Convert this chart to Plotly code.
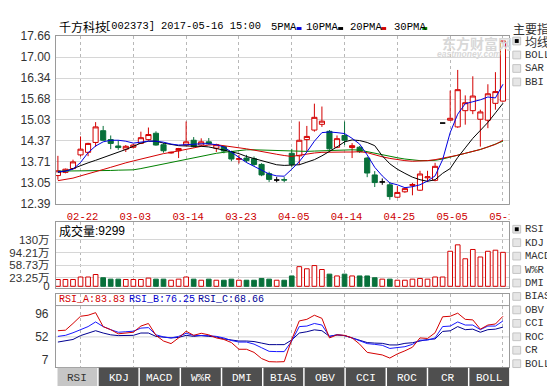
import plotly.graph_objects as go

W, H = 555, 386

# ---------------- data ----------------
dates = ['2017-02-17', '2017-02-20', '2017-02-21', '2017-02-22', '2017-02-23', '2017-02-24', '2017-02-27', '2017-02-28',
         '2017-03-01', '2017-03-02', '2017-03-03', '2017-03-06', '2017-03-07', '2017-03-08', '2017-03-09', '2017-03-10',
         '2017-03-13', '2017-03-14', '2017-03-15', '2017-03-16', '2017-03-17', '2017-03-20', '2017-03-21', '2017-03-22',
         '2017-03-23', '2017-03-24', '2017-03-27', '2017-03-28', '2017-03-29', '2017-03-30', '2017-03-31',
         '2017-04-05', '2017-04-06', '2017-04-07', '2017-04-10', '2017-04-11', '2017-04-12', '2017-04-13', '2017-04-14',
         '2017-04-17', '2017-04-18', '2017-04-19', '2017-04-20', '2017-04-21', '2017-04-24', '2017-04-25', '2017-04-26',
         '2017-04-27', '2017-04-28', '2017-05-02', '2017-05-03', '2017-05-04', '2017-05-05', '2017-05-08', '2017-05-09',
         '2017-05-10', '2017-05-11', '2017-05-12', '2017-05-15', '2017-05-16']

opens = [13.28, 13.38, 13.50, 13.93, 14.01, 14.32, 14.69, 14.41, 14.21, 14.11,
         14.17, 14.29, 14.41, 14.61, 14.25, 13.99, 14.06, 14.24, 14.39, 14.24,
         14.34, 14.14, 14.19, 14.03, 13.79, 13.83, 13.81, 13.63, 13.34, 13.14,
         13.15, 13.98, 13.90, 14.41, 14.71, 14.89, 14.67, 14.17, 14.54, 14.16,
         14.17, 13.83, 13.30, 13.08, 12.99, 12.60, 12.77, 12.97, 12.82, 13.21,
         13.13, 14.93, 15.02, 14.81, 15.32, 15.32, 15.05, 15.02, 15.55, 15.62]
highs = [13.90, 13.50, 13.78, 14.51, 14.31, 14.96, 14.84, 14.54, 14.39, 14.24,
         14.28, 14.66, 14.79, 14.67, 14.30, 14.03, 14.15, 14.98, 14.49, 14.45,
         14.46, 14.28, 14.22, 14.06, 13.93, 13.93, 13.88, 13.67, 13.40, 13.24,
         13.23, 14.12, 14.98, 14.84, 15.54, 15.45, 14.71, 14.54, 14.98, 14.30,
         14.21, 13.87, 13.42, 13.19, 13.08, 12.95, 12.90, 13.05, 13.43, 13.43,
         13.68, 14.93, 15.95, 16.60, 15.80, 16.40, 15.35, 16.15, 16.53, 17.51]
lows = [13.15, 13.35, 13.48, 13.88, 13.89, 14.18, 14.37, 14.11, 14.09, 14.02,
        14.13, 14.27, 14.38, 14.22, 14.00, 13.97, 13.83, 14.22, 14.16, 14.21,
        14.25, 14.02, 13.98, 13.73, 13.66, 13.69, 13.58, 13.26, 13.08, 13.07,
        13.07, 13.54, 13.62, 14.04, 14.66, 14.81, 14.09, 14.14, 14.24, 13.83,
        13.99, 13.23, 12.92, 12.99, 12.52, 12.58, 12.74, 12.66, 12.80, 13.08,
        13.10, 14.93, 15.00, 14.78, 14.88, 15.21, 14.19, 14.77, 15.35, 15.60]
closes = [13.43, 13.48, 13.71, 14.11, 14.29, 14.81, 14.39, 14.29, 14.16, 14.20,
          14.24, 14.47, 14.57, 14.24, 14.06, 14.01, 14.13, 14.34, 14.19, 14.34,
          14.28, 14.25, 14.05, 13.80, 13.81, 13.75, 13.63, 13.30, 13.16, 13.14,
          13.14, 13.63, 14.39, 14.51, 15.11, 14.99, 14.12, 14.44, 14.39, 14.22,
          14.03, 13.36, 13.06, 13.08, 12.62, 12.75, 12.87, 13.00, 13.33, 13.24,
          13.57, 14.93, 15.08, 15.98, 15.57, 15.78, 15.28, 15.85, 15.92, 17.51]

# volume in 万 (10k shares)
volume = [19, 19, 19, 26, 26, 33, 24, 20, 20, 19,
          19, 19, 23, 20, 20, 17, 20, 26, 20, 17,
          20, 17, 17, 20, 17, 17, 17, 22, 20, 17,
          17, 29, 55, 49, 58, 47, 34, 29, 34, 29,
          29, 29, 24, 20, 20, 17, 17, 20, 22, 20,
          26, 26, 98, 116, 77, 103, 82, 98, 101, 95]

ma5 = [13.40, 13.42, 13.48, 13.69, 14.00, 14.21, 14.34, 14.39, 14.39, 14.36,
       14.30, 14.33, 14.36, 14.36, 14.33, 14.27, 14.24, 14.25, 14.27, 14.28,
       14.28, 14.25, 14.18, 14.02, 13.87, 13.69, 13.57, 13.45, 13.33, 13.27,
       13.26, 13.48, 13.72, 14.02, 14.36, 14.63, 14.65, 14.63, 14.60, 14.45,
       14.27, 13.93, 13.54, 13.27, 13.05, 12.99, 12.90, 12.93, 12.99, 13.11,
       13.27, 13.78, 14.63, 15.21, 15.54, 15.60, 15.66, 15.75, 15.72, 16.15]
ma10 = [13.38, 13.42, 13.50, 13.60, 13.68, 13.76, 13.84, 13.92, 14.00, 14.10,
        14.20, 14.30, 14.36, 14.36, 14.30, 14.26, 14.22, 14.21, 14.21, 14.20,
        14.18, 14.14, 14.08, 14.03, 13.97, 13.88, 13.82, 13.76, 13.70, 13.62,
        13.60, 13.60, 13.62, 13.70, 13.78, 13.90, 14.03, 14.18, 14.34, 14.40,
        14.38, 14.32, 14.22, 13.90, 13.65, 13.48, 13.35, 13.23, 13.15, 13.10,
        13.15, 13.35, 13.50, 13.85, 14.15, 14.45, 14.70, 14.95, 15.25, 15.55]
ma20 = [13.12, 13.15, 13.20, 13.27, 13.33, 13.40, 13.47, 13.54, 13.62, 13.68,
        13.74, 13.80, 13.86, 13.93, 13.97, 14.01, 14.05, 14.10, 14.15, 14.20,
        14.24, 14.25, 14.22, 14.20, 14.17, 14.12, 14.08, 14.03, 13.99, 13.95,
        13.91, 13.88, 13.92, 13.96, 13.99, 14.01, 14.02, 14.02, 14.02, 14.02,
        14.03, 14.00, 13.93, 13.87, 13.82, 13.78, 13.75, 13.73, 13.73, 13.75,
        13.78, 13.82, 13.86, 13.92, 13.98, 14.03, 14.10, 14.18, 14.26, 14.39]
ma30 = [13.42, 13.42, 13.42, 13.43, 13.43, 13.43, 13.44, 13.44, 13.45, 13.45,
        13.46, 13.50, 13.55, 13.60, 13.65, 13.70, 13.75, 13.80, 13.85, 13.90,
        13.94, 13.98, 14.01, 14.04, 14.07, 14.09, 14.09, 14.08, 14.07, 14.06,
        14.05, 14.04, 14.04, 14.04, 14.05, 14.06, 14.07, 14.08, 14.09, 14.09,
        14.08, 14.03, 13.97, 13.93, 13.88, 13.84, 13.80, 13.77, 13.75, 13.75,
        13.76, 13.80, 13.85, 13.92, 13.98, 14.03, 14.10, 14.18, 14.26, 14.36]

rsi_a = [64, 65, 78, 92, 94, 99, 72, 66, 58, 59,
         61, 73, 78, 55, 44, 39, 50, 63, 55, 59,
         56, 50, 47, 41, 28, 28, 22, 10, 4, 3.5,
         4, 47, 83, 86, 94, 88, 50, 56, 55, 50,
         38, 22, 19, 17, 11, 19, 25, 32, 50, 49,
         60, 91, 92, 98, 86, 85, 67, 75, 77, 92]
rsi_b = [53, 55, 60, 66, 72, 81, 72, 66, 61, 62,
         63, 69, 70, 56, 52, 50, 53, 59, 55, 54.5,
         54.5, 53, 50, 45, 42, 42, 38, 31, 24, 23.5,
         23.5, 44, 72, 73, 78, 75, 53, 56, 54.5, 50,
         44, 39, 37.6, 35.7, 29.6, 31.4, 33, 37.6, 45.7, 45.7,
         50, 72, 73, 81, 75, 75, 66, 73, 73, 83]
rsi_c = [42, 44, 47, 54.5, 59, 64, 59.5, 56, 54.5, 54.5,
         55, 59.5, 59.5, 53, 51, 50, 51, 55, 53, 54.5,
         53, 52, 48, 45.7, 44, 44, 43, 40, 37, 37,
         37, 46, 59.5, 62, 65.7, 64, 53, 56, 54.5, 50,
         46, 41, 40, 39.5, 36.4, 36.4, 39.5, 40.7, 44, 47,
         48, 62.6, 63.8, 72, 66, 67, 61, 66, 67, 71]

price_ticks = [12.39, 13.05, 13.71, 14.37, 15.03, 15.68, 16.34, 17.00, 17.66]
vol_ticks = [0, 23.25, 58.73, 94.21, 130]
vol_ticktext = ['0', '23.25万', '58.73万', '94.21万', '130万']
rsi_ticks = [7, 52, 96]
date_tick_labels = ['02-22', '03-03', '03-14', '03-23', '04-05', '04-14', '04-25', '05-05', '05-16']
tab_labels = ['RSI', 'KDJ', 'MACD', 'W%R', 'DMI', 'BIAS', 'OBV', 'CCI', 'ROC', 'CR', 'BOLL']
main_menu = ['均线', 'BOLL', 'SAR', 'BBI']
sub_menu = ['RSI', 'KDJ', 'MACD', 'W%R', 'DMI', 'BIAS', 'OBV', 'CCI', 'ROC', 'CR', 'BOLL']
ma_names = ['5PMA', '10PMA', '20PMA', '30PMA']

# ---------------- style ----------------
RED = '#d40000'
GREEN = '#08703a'
C_MA = ['#0000e0', '#000000', '#d40000', '#008000']
C_RSI = ['#d40000', '#1818ff', '#000090']
GRID = '#d6d6d6'
VGRID = '#b8b8b8'
BORDER = '#9a9a9a'
MONO = 'Liberation Mono'
SANS = 'Liberation Sans, Noto Sans CJK SC'
CJK = 'Noto Sans CJK SC'


def X(px):
    return px / W


def Y(py):
    return 1 - py / H


n = len(dates)
xr = [-0.26, n - 1 + 0.79]
tickdates = [d for d in dates if d[5:] in date_tick_labels]

fig = go.Figure()

# ---- candlesticks ----
up = [i for i in range(n) if closes[i] > opens[i]]
dn = [i for i in range(n) if closes[i] < opens[i]]
flat = [i for i in range(n) if closes[i] == opens[i]]


def sub(lst, idx):
    return [lst[i] for i in idx]


for idx, col, fill in [(up, RED, 'white'), (dn, GREEN, GREEN), (flat, '#000000', '#000000')]:
    fig.add_trace(go.Candlestick(
        x=sub(dates, idx), open=sub(opens, idx), high=sub(highs, idx),
        low=sub(lows, idx), close=sub(closes, idx),
        increasing=dict(line=dict(color=col, width=1), fillcolor=fill),
        decreasing=dict(line=dict(color=col, width=1), fillcolor=fill),
        whiskerwidth=0, xaxis='x', yaxis='y', showlegend=False, hoverinfo='skip'))

# ---- moving averages ----
for vals, col in zip([ma30, ma20, ma10, ma5], [C_MA[3], C_MA[2], C_MA[1], C_MA[0]]):
    fig.add_trace(go.Scatter(x=dates, y=vals, mode='lines', line=dict(color=col, width=1),
                             xaxis='x', yaxis='y', showlegend=False, hoverinfo='skip'))

# ---- volume ----
vfill = [('white' if closes[i] >= opens[i] else GREEN) for i in range(n)]
vline = [(RED if closes[i] >= opens[i] else GREEN) for i in range(n)]
fig.add_trace(go.Bar(x=dates, y=volume, width=0.62,
                     marker=dict(color=vfill, line=dict(color=vline, width=1)),
                     xaxis='x2', yaxis='y2', showlegend=False, hoverinfo='skip'))

# ---- RSI ----
for vals, col in zip([rsi_c, rsi_b, rsi_a], [C_RSI[2], C_RSI[1], C_RSI[0]]):
    fig.add_trace(go.Scatter(x=dates, y=vals, mode='lines', line=dict(color=col, width=1),
                             xaxis='x3', yaxis='y3', showlegend=False, hoverinfo='skip'))

xdom = [X(49), X(512)]
common_x = dict(type='category', categoryorder='array', categoryarray=dates, range=xr,
                domain=xdom, tickvals=tickdates, showgrid=True, gridcolor=VGRID, griddash='dot',
                gridwidth=1, showline=True, mirror=True, linecolor=BORDER, linewidth=1,
                ticks='', zeroline=False, fixedrange=True, rangeslider=dict(visible=False))

fig.update_layout(
    width=W, height=H, margin=dict(l=0, r=0, t=0, b=0),
    paper_bgcolor='white', plot_bgcolor='white', showlegend=False,
    boxmode='overlay', boxgap=0.32, boxgroupgap=0, bargap=0, dragmode=False,
    xaxis=dict(common_x, anchor='y', ticktext=date_tick_labels,
               tickfont=dict(family=MONO, size=10.5, color='#cc0000'),
               ticklabelstandoff=3, ticklabelshift=2),
    yaxis=dict(domain=[Y(196), Y(22)], range=[12.39, 17.66], tickvals=price_ticks,
               ticktext=['%.2f' % v for v in price_ticks],
               tickfont=dict(family=SANS, size=12, color='#333333'),
               showgrid=True, gridcolor=GRID, zeroline=False, showline=True, mirror=True,
               linecolor=BORDER, ticks='', ticklabelstandoff=2, fixedrange=True, anchor='x'),
    xaxis2=dict(common_x, anchor='y2', showticklabels=False),
    yaxis2=dict(domain=[Y(283), Y(215)], range=[-4, 179.3], tickvals=vol_ticks, ticktext=vol_ticktext,
                tickfont=dict(family=SANS, size=11.5, color='#333333'),
                showgrid=True, gridcolor=GRID, zeroline=False, showline=True, mirror=True,
                linecolor=BORDER, ticks='', ticklabelstandoff=3, fixedrange=True, anchor='x2'),
    xaxis3=dict(common_x, anchor='y3', showticklabels=False),
    yaxis3=dict(domain=[Y(365), Y(289)], range=[-5.9, 136.1], tickvals=rsi_ticks,
                tickfont=dict(family=SANS, size=12, color='#333333'),
                showgrid=False, zeroline=False, showline=True, mirror=True,
                linecolor=BORDER, ticks='', ticklabelstandoff=4, fixedrange=True, anchor='x3'),
)

shapes = []
annotations = []

# white cover to clip last date label at panel edge
shapes.append(dict(type='rect', xref='paper', yref='paper', x0=X(512.5), x1=X(555), y0=Y(214), y1=Y(197),
                   fillcolor='white', line=dict(width=0), layer='above'))

# RSI header separator and 52 gridline
shapes.append(dict(type='line', xref='paper', yref='paper', x0=X(49), x1=X(512), y0=Y(301.5), y1=Y(301.5),
                   line=dict(color=BORDER, width=1), layer='below'))
shapes.append(dict(type='line', xref='x3 domain', yref='y3', x0=0, x1=1, y0=52, y1=52,
                   line=dict(color=GRID, width=1), layer='below'))

# ---- title ----
annotations.append(dict(text='千方科技', x=X(50), y=Y(11.5), xref='paper', yref='paper', xanchor='left',
                        yanchor='middle', showarrow=False, font=dict(family=CJK, size=12, color='#000')))
annotations.append(dict(text='[002373] 2017-05-16 15:00', x=X(97), y=Y(11.5), xref='paper', yref='paper',
                        xanchor='left', yanchor='middle', showarrow=False,
                        font=dict(family=MONO, size=10.4, color='#000')))
# MA legend
ma_x = [267, 303, 348, 392]
blk_x = [295, 337.5, 381.5, 423.5]
for name, tx, bx, col in zip(ma_names, ma_x, blk_x, C_MA):
    annotations.append(dict(text=name, x=X(tx), y=Y(12), xref='paper', yref='paper', xanchor='left',
                            yanchor='middle', showarrow=False, font=dict(family=MONO, size=10.6, color='#000')))
    shapes.append(dict(type='rect', xref='paper', yref='paper', x0=X(bx), x1=X(bx + 5), y0=Y(15.5), y1=Y(12.5),
                       fillcolor=col, line=dict(width=0), layer='above'))

# watermark
annotations.append(dict(text='东方财富网', x=X(442), y=Y(29), xref='paper', yref='paper', xanchor='left',
                        yanchor='middle', showarrow=False,
                        font=dict(family=CJK, size=14, color='#d8d8d8', weight='bold')))
annotations.append(dict(text='<i>eastmoney.com</i>', x=X(436), y=Y(40.5), xref='paper', yref='paper',
                        xanchor='left', yanchor='middle', showarrow=False,
                        font=dict(family='Liberation Sans', size=8.5, color='#d8d8d8', weight='bold')))

# right main menu
annotations.append(dict(text='主要指标', x=X(514), y=Y(13.5), xref='paper', yref='paper', xanchor='left',
                        yanchor='middle', showarrow=False, font=dict(family=CJK, size=12, color='#333')))


def checkbox(cx, cy, checked):
    shapes.append(dict(type='rect', xref='paper', yref='paper', x0=X(cx - 4), x1=X(cx + 4),
                       y0=Y(cy + 4), y1=Y(cy - 4), fillcolor='#e6e6e6',
                       line=dict(color='#c4c4c4', width=1), layer='above'))
    if checked:
        shapes.append(dict(type='rect', xref='paper', yref='paper', x0=X(cx - 2), x1=X(cx + 2),
                           y0=Y(cy + 2), y1=Y(cy - 2), fillcolor='#000',
                           line=dict(width=0), layer='above'))


main_y = [27, 41.5, 55.5, 69.5]
for k, (lab, yy) in enumerate(zip(main_menu, main_y)):
    checkbox(520, yy, k == 0)
    fnt = dict(family=CJK, size=12, color='#333') if k == 0 else dict(family=MONO, size=10.5, color='#333')
    annotations.append(dict(text=lab, x=X(526.5), y=Y(yy), xref='paper', yref='paper', xanchor='left',
                            yanchor='middle', showarrow=False, font=fnt))

for k, lab in enumerate(sub_menu):
    yy = 222.3 + 13.95 * k
    checkbox(520, yy, k == 0)
    annotations.append(dict(text=lab, x=X(526.5), y=Y(yy), xref='paper', yref='paper', xanchor='left',
                            yanchor='middle', showarrow=False, font=dict(family=MONO, size=10.5, color='#333')))

# panel headers
annotations.append(dict(text='成交量', x=X(50.5), y=Y(224), xref='paper', yref='paper', xanchor='left',
                        yanchor='middle', showarrow=False, font=dict(family=CJK, size=12, color='#000')))
annotations.append(dict(text=':9299', x=X(87), y=Y(224.5), xref='paper', yref='paper', xanchor='left',
                        yanchor='middle', showarrow=False, font=dict(family='Liberation Sans', size=12, color='#000')))
rsi_head = [('RSI_A:83.83', 50, C_RSI[0]), ('RSI_B:76.25', 121.5, '#0000cc'), ('RSI_C:68.66', 192.5, '#000099')]
for txt, xx, col in rsi_head:
    annotations.append(dict(text=txt, x=X(xx), y=Y(295.5), xref='paper', yref='paper', xanchor='left',
                            yanchor='middle', showarrow=False, font=dict(family=MONO, size=10, color=col)))

# bottom tabs
for k, lab in enumerate(tab_labels):
    x0 = 50.6 + 42.1 * k
    x1 = x0 + 40.6
    active = (k == 0)
    shapes.append(dict(type='rect', xref='paper', yref='paper', x0=X(x0), x1=X(x1), y0=Y(386), y1=Y(366),
                       fillcolor='#c6c6c6' if active else '#4f4f4f', line=dict(width=0), layer='above'))
    annotations.append(dict(text=lab, x=X((x0 + x1) / 2), y=Y(376.5), xref='paper', yref='paper',
                            xanchor='center', yanchor='middle', showarrow=False,
                            font=dict(family=MONO, size=11, color='#333' if active else '#ffffff')))

fig.update_layout(shapes=shapes, annotations=annotations)
fig.write_html('out.html', config=dict(displayModeBar=False, staticPlot=True))
